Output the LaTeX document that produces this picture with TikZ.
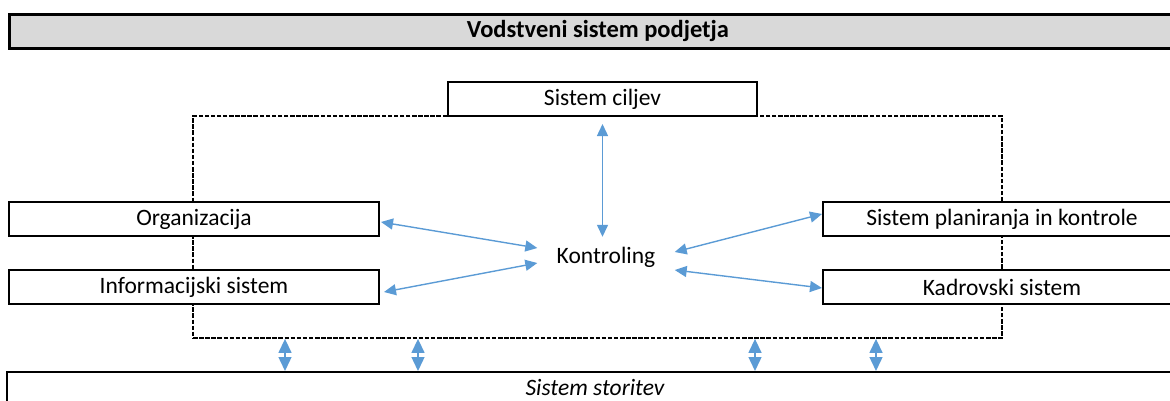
\documentclass[tikz,border=0pt]{standalone}
\usepackage{fontspec}
\setmainfont{Carlito}
\usetikzlibrary{arrows.meta,calc}
\definecolor{linkblue}{HTML}{5B9BD5}
\definecolor{headgray}{HTML}{D9D9D9}

\begin{document}
\begin{tikzpicture}[x=1pt,y=-1pt,
  txt/.style={font=\fontsize{23.5}{28}\selectfont},
  sysbox/.style={txt,draw=black,fill=white,line width=2pt,minimum height=34pt,inner sep=0pt},
  headbox/.style={sysbox,fill=headgray,line width=3pt,font=\bfseries\fontsize{24.5}{29}\selectfont},
  frameline/.style={draw=black,line width=1.8pt,dash pattern=on 4.5pt off 1.6pt},
  link/.style={draw=linkblue,line width=1.4pt,{Triangle[length=12pt,width=11pt]}-{Triangle[length=12pt,width=11pt]}},
  tie/.style={draw=linkblue,line width=1.4pt,{Triangle[length=14pt,width=13pt]}-{Triangle[length=14pt,width=13pt]}}
]
\useasboundingbox (0,0) rectangle (1170,400);
\clip (0,0) rectangle (1170,400);

% heading bar
\node[headbox,minimum width=1178pt] (head) at (598,31) {Vodstveni sistem podjetja};

% dashed frame of the management system
\node[frameline,minimum width=809pt,minimum height=222pt,inner sep=0pt] (frame) at (597.5,227) {};

% subsystems
\node[sysbox,minimum width=309pt] (goals) at (602.5,99) {Sistem ciljev};
\node[sysbox,minimum width=370pt] (org) at (194,219) {Organizacija};
\node[sysbox,minimum width=370pt] (info) at (194,287) {Informacijski sistem};
\node[sysbox,minimum width=358pt] (plan) at (1002,219) {Sistem planiranja in kontrole};
\node[sysbox,minimum width=358pt] (staff) at (1002,287) {Kadrovski sistem};
\node[txt,minimum width=137pt,minimum height=40pt,inner sep=0pt] (kont) at (606,257) {Kontroling};

% service system at the bottom
\node[sysbox,minimum width=1176pt,minimum height=30pt,font=\itshape\fontsize{23.5}{28}\selectfont] (serv) at (595,387) {Sistem storitev};

% links to the controlling function
\draw[link] (goals.south) ++(0,7) coordinate (g1) (g1) -- (g1 |- kont.north);
\draw[link] ($(org.east)+(1,3)$) -- ($(kont.west)+(0,-9)$);
\draw[link] ($(info.east)+(4,5)$) -- ($(kont.west)+(0,6)$);
\draw[link] ($(kont.east)+(0,-5)$) -- ($(plan.west)+(0,-5)$);
\draw[link] ($(kont.east)+(0,13)$) -- ($(staff.west)+(0,1)$);

% links between the frame and the service system
\coordinate (b1) at (285,0);
\coordinate (b2) at (418,0);
\coordinate (b3) at (755,0);
\coordinate (b4) at (876,0);
\foreach \b in {b1,b2,b3,b4}
  \draw[tie] (frame.south -| \b) -- (serv.north -| \b);
\end{tikzpicture}
\end{document}
